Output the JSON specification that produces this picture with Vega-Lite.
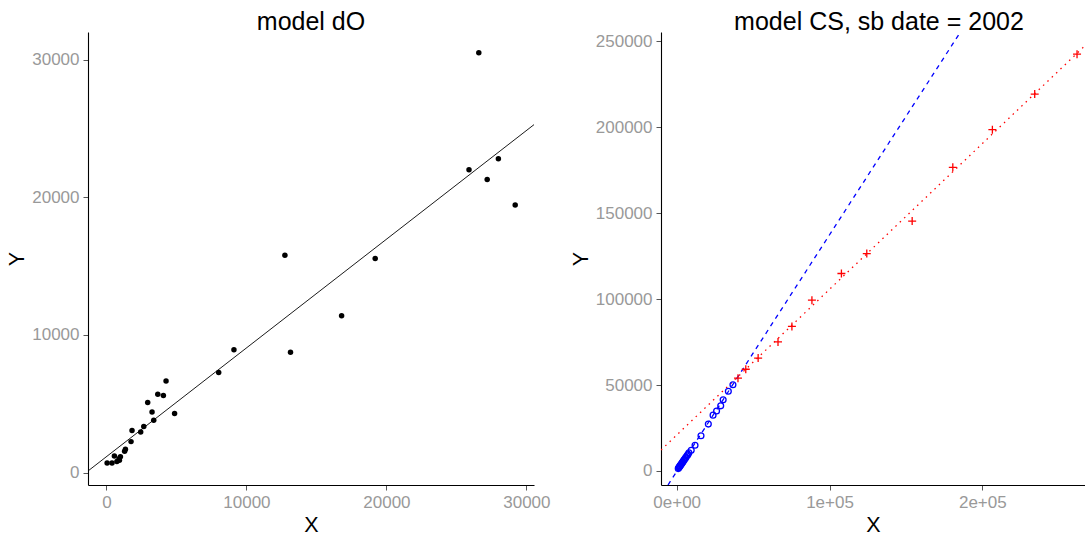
{
  "$schema": "https://vega.github.io/schema/vega-lite/v6.json",
  "padding": {"left": 6, "top": 9, "right": 0, "bottom": 0},
  "spacing": 19,
  "config": {
    "view": {"stroke": null},
    "font": "Liberation Sans",
    "axis": {
      "grid": false,
      "domainColor": "#000000",
      "domainWidth": 1.1,
      "tickColor": "#555555",
      "tickSize": 5,
      "tickWidth": 1,
      "labelColor": "#999999",
      "labelFontSize": 17,
      "labelPadding": 4,
      "labelFont": "Liberation Sans",
      "titleFont": "Liberation Sans",
      "titleFontSize": 21.5,
      "titleFontWeight": "normal",
      "titleColor": "#000000",
      "titlePadding": 3
    },
    "axisX": {"titlePadding": 4},
    "title": {"fontSize": 25, "fontWeight": "normal", "font": "Liberation Sans", "baseline": "alphabetic", "offset": -2.5, "anchor": "middle", "color": "#000000"}
  },
  "datasets": {
    "dO": [
      {"x": 50, "y": 700}, {"x": 400, "y": 700}, {"x": 570, "y": 1200}, {"x": 750, "y": 800},
      {"x": 930, "y": 900}, {"x": 1000, "y": 1150}, {"x": 1300, "y": 1550}, {"x": 1360, "y": 1700},
      {"x": 1760, "y": 2250}, {"x": 1830, "y": 3050}, {"x": 2450, "y": 2950}, {"x": 2670, "y": 3350},
      {"x": 2950, "y": 5100}, {"x": 3260, "y": 4400}, {"x": 3380, "y": 3800}, {"x": 3670, "y": 5700},
      {"x": 4070, "y": 5600}, {"x": 4260, "y": 6650}, {"x": 4870, "y": 4300}, {"x": 8020, "y": 7280},
      {"x": 9110, "y": 8920}, {"x": 12750, "y": 15800}, {"x": 13150, "y": 8750}, {"x": 16800, "y": 11400},
      {"x": 19200, "y": 15550}, {"x": 25900, "y": 22000}, {"x": 26600, "y": 30500}, {"x": 27200, "y": 21300},
      {"x": 28000, "y": 22800}, {"x": 29200, "y": 19450}, {"x": 900, "y": 1000}
    ],
    "dO_line": [{"x": -1315, "y": 116}, {"x": 30543, "y": 25284}],
    "cs_blue": [
      {"x": 1000, "y": 1400}, {"x": 1300, "y": 1900}, {"x": 1700, "y": 2300}, {"x": 2000, "y": 2800},
      {"x": 2300, "y": 3000}, {"x": 2600, "y": 3600}, {"x": 3000, "y": 3900}, {"x": 3300, "y": 4500},
      {"x": 3700, "y": 4900}, {"x": 4000, "y": 5300}, {"x": 4500, "y": 6000}, {"x": 5000, "y": 6600},
      {"x": 5500, "y": 7300}, {"x": 6000, "y": 7900}, {"x": 6700, "y": 8800}, {"x": 7300, "y": 9500},
      {"x": 8000, "y": 10600}, {"x": 9500, "y": 12100}, {"x": 12000, "y": 15000}, {"x": 15900, "y": 20500},
      {"x": 20700, "y": 27300}, {"x": 23800, "y": 32500}, {"x": 26100, "y": 34900}, {"x": 28800, "y": 37900},
      {"x": 30400, "y": 41400}, {"x": 33800, "y": 46400}, {"x": 36800, "y": 50200}
    ],
    "cs_red": [
      {"x": 40100, "y": 54000}, {"x": 45200, "y": 59200}, {"x": 53300, "y": 65700}, {"x": 66300, "y": 75100},
      {"x": 75400, "y": 84100}, {"x": 88500, "y": 99400}, {"x": 107800, "y": 114900}, {"x": 124400, "y": 126500},
      {"x": 154100, "y": 145400}, {"x": 180700, "y": 176700}, {"x": 206600, "y": 198600}, {"x": 234300, "y": 219300},
      {"x": 262000, "y": 242500}
    ],
    "cs_blue_line": [{"x": -5685, "y": -8151}, {"x": 185721, "y": 255414}],
    "cs_red_line": [{"x": -10275, "y": 12195}, {"x": 267212, "y": 247447}]
  },
  "hconcat": [
    {
      "width": 446,
      "height": 453,
      "title": "model dO",
      "encoding": {
        "x": {"field": "x", "type": "quantitative", "title": "X",
              "scale": {"domain": [-1315, 30543], "nice": false, "zero": false},
              "axis": {"values": [0, 10000, 20000, 30000], "format": "d"}},
        "y": {"field": "y", "type": "quantitative", "title": "Y",
              "scale": {"domain": [-902, 32015], "nice": false, "zero": false},
              "axis": {"values": [0, 10000, 20000, 30000], "format": "d"}}
      },
      "layer": [
        {"data": {"name": "dO_line"}, "mark": {"type": "line", "color": "#000000", "strokeWidth": 0.9, "clip": true}},
        {"data": {"name": "dO"}, "mark": {"type": "point", "shape": "circle", "filled": true, "color": "#000000", "size": 30, "opacity": 1}}
      ]
    },
    {
      "width": 424,
      "height": 453,
      "title": {"text": "model CS, sb date = 2002", "dx": 6},
      "encoding": {
        "x": {"field": "x", "type": "quantitative", "title": "X",
              "scale": {"domain": [-10275, 267212], "nice": false, "zero": false},
              "axis": {"values": [0, 100000, 200000], "labelExpr": "datum.value == 0 ? '0e+00' : datum.value == 100000 ? '1e+05' : '2e+05'"}},
        "y": {"field": "y", "type": "quantitative", "title": "Y",
              "scale": {"domain": [-8151, 255414], "nice": false, "zero": false},
              "axis": {"values": [0, 50000, 100000, 150000, 200000, 250000], "format": "d"}}
      },
      "layer": [
        {"data": {"name": "cs_red_line"}, "mark": {"type": "line", "color": "#FF0000", "strokeWidth": 1.3, "strokeDash": [1.5, 4.5], "clip": true}},
        {"data": {"name": "cs_blue_line"}, "mark": {"type": "line", "color": "#0000FF", "strokeWidth": 1.3, "strokeDash": [4.5, 4.5], "clip": true}},
        {"data": {"name": "cs_blue"}, "mark": {"type": "point", "shape": "circle", "filled": false, "color": "#0000FF", "size": 34, "strokeWidth": 1.3, "opacity": 1}},
        {"data": {"name": "cs_red"}, "mark": {"type": "point", "shape": "M-1,0L1,0M0,-1L0,1", "filled": false, "color": "#FF0000", "size": 64, "strokeWidth": 1.3, "opacity": 1}}
      ]
    }
  ]
}
